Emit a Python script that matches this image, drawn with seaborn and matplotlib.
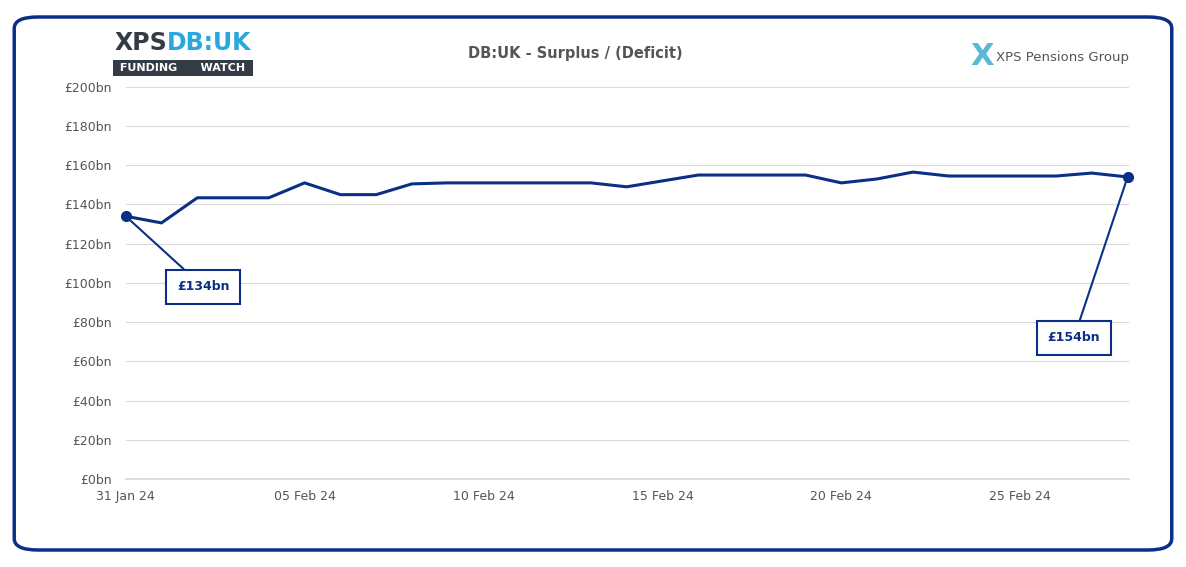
import numpy as np
import pandas as pd
import matplotlib
matplotlib.use("Agg")
import matplotlib.pyplot as plt
import seaborn as sns
from matplotlib.patches import FancyBboxPatch

dates = pd.date_range("2024-01-31", "2024-02-28", freq="D")
surplus = [134, 130.6, 143.4, 143.4, 143.4, 151, 145, 145, 150.5, 151, 151, 151, 151, 151,
           149, 152, 155, 155, 155, 155, 151, 153, 156.5, 154.5, 154.5, 154.5, 154.5, 156, 154]
yticks = list(range(0, 201, 20))
tick_dates = pd.to_datetime(["2024-01-31", "2024-02-05", "2024-02-10", "2024-02-15",
                             "2024-02-20", "2024-02-25"])
navy = "#0b2f86"

df = pd.DataFrame({"date": dates, "surplus": surplus})

sns.set_theme(style="white")
plt.rcParams['font.family'] = ['DejaVu Sans']
fig = plt.figure(figsize=(11.86, 5.67), dpi=100)
fig.patches.append(FancyBboxPatch((0.012, 0.03), 0.976, 0.94, boxstyle="round,pad=0,rounding_size=0.02",
                                  transform=fig.transFigure, fill=False, edgecolor=navy, linewidth=2.5))
ax = fig.add_axes([0.106, 0.155, 0.846, 0.692])
sns.lineplot(data=df, x="date", y="surplus", ax=ax, color=navy, linewidth=2.2)
ax.plot([dates[0], dates[-1]], [surplus[0], surplus[-1]], "o", color=navy, markersize=7)
ax.set_ylim(0, 200)
ax.set_xlim(dates[0], dates[-1] + pd.Timedelta(hours=1))
ax.set_yticks(yticks)
ax.set_yticklabels([f"£{v}bn" for v in yticks], fontsize=9, color="#555555")
ax.set_xticks(tick_dates)
ax.set_xticklabels([d.strftime("%d %b %y") for d in tick_dates], fontsize=9, color="#555555")
ax.grid(axis="y", color="#d9d9d9", linewidth=0.8)
for s in ["top", "right", "left"]:
    ax.spines[s].set_visible(False)
ax.spines["bottom"].set_color("#d9d9d9")
ax.tick_params(length=0)
ax.tick_params(axis="x", pad=8)
ax.tick_params(axis="y", pad=10)
ax.set_xlabel("")
ax.set_ylabel("")
for ln in ax.lines:
    ln.set_clip_on(False)

box = dict(boxstyle="square,pad=0.85", fc="white", ec=navy, lw=1.5)
ax.annotate("£134bn", xy=(dates[0], surplus[0]), xytext=(dates[2] + pd.Timedelta(hours=4), 98),
            fontsize=9, fontweight="bold", color=navy, ha="center", va="center", bbox=box,
            arrowprops=dict(arrowstyle="-", color=navy, lw=1.5, shrinkA=0, shrinkB=0))
ax.annotate("£154bn", xy=(dates[-1], surplus[-1]), xytext=(dates[26] + pd.Timedelta(hours=12), 72),
            fontsize=9, fontweight="bold", color=navy, ha="center", va="center", bbox=box,
            arrowprops=dict(arrowstyle="-", color=navy, lw=1.5, shrinkA=0, shrinkB=0))

fig.text(0.485, 0.905, "DB:UK - Surplus / (Deficit)", ha="center", va="center",
         fontsize=10.5, fontweight="bold", color="#555555")
# logos as text
fig.text(0.097, 0.925, "XPS", fontsize=17, fontweight="bold", color="#333b45", va="center")
fig.text(0.141, 0.925, "DB:UK", fontsize=17, fontweight="bold", color="#29a8e0", va="center")
fig.text(0.098, 0.88, " FUNDING      WATCH ", fontsize=8, fontweight="bold", color="white", va="center",
         bbox=dict(boxstyle="square,pad=0.3", fc="#333b45", ec="none"))
fig.text(0.818, 0.9, "X", fontsize=22, fontweight="bold", color="#5bb8d6", va="center")
fig.text(0.840, 0.898, "XPS Pensions Group", fontsize=9.5, color="#555555", va="center")

fig.savefig("out.png", dpi=100)
